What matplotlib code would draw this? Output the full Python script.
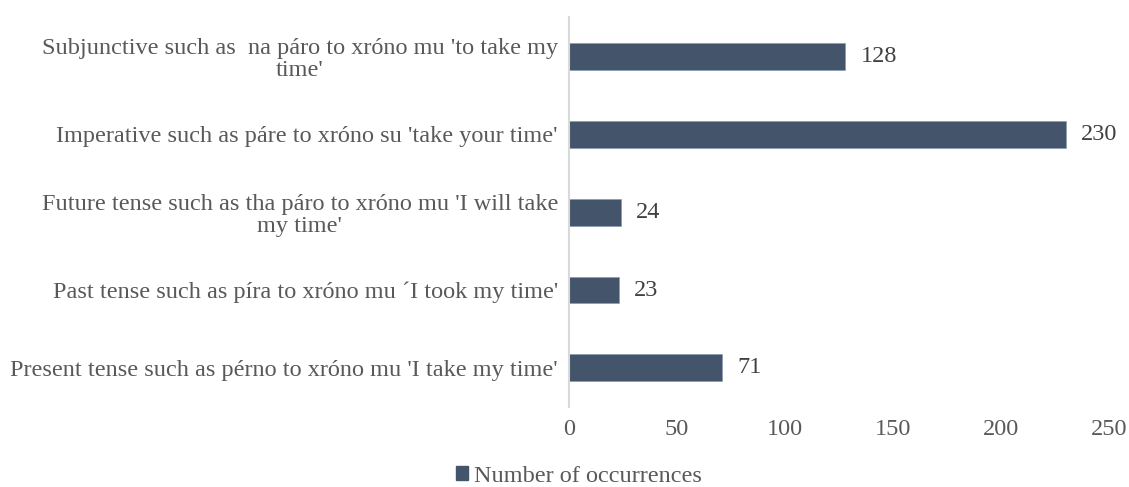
import matplotlib
matplotlib.use("Agg")
import matplotlib.pyplot as plt
from matplotlib.patches import Patch

# categories, bottom to top as drawn
categories = [
    "Present tense such as pérno to xróno mu 'I take my time'",
    "Past tense such as píra to xróno mu \u00b4I took my time'",
    "Future tense such as tha páro to xróno mu 'I will take\nmy time'",
    "Imperative such as páre to xróno su 'take your time'",
    "Subjunctive such as  na páro to xróno mu 'to take my\ntime'",
]
occurrences = [71, 23, 24, 230, 128]
xticks = [0, 50, 100, 150, 200, 250]
series_name = "Number of occurrences"

bar_color = "#44546a"
text_color = "#595959"
axis_color = "#d9d9d9"

plt.rcParams["font.family"] = ["Liberation Serif", "DejaVu Serif"]
plt.rcParams["font.size"] = 17.5

fig = plt.figure(figsize=(11.29, 4.87), dpi=100)
ax = fig.add_axes([0.504, 0.1643, 0.4783, 0.8007])

ypos = list(range(len(categories)))
bars = ax.barh(ypos, occurrences, height=0.346, color=bar_color,
               edgecolor="#8496b0", linewidth=0.4)

for y, v in zip(ypos, occurrences):
    ax.annotate(str(v), xy=(v, y), xytext=(11, 0), textcoords="offset points",
                ha="left", va="center", color="#404040")

ax.set_xlim(0, 250)
ax.set_ylim(-0.5, len(categories) - 0.5)
ax.set_xticks(xticks)
ax.set_xticklabels([str(t) for t in xticks], color=text_color)
ax.set_yticks(ypos)
ax.set_yticklabels(categories, color=text_color, multialignment="center",
                   linespacing=1.1)

for side in ["top", "right", "bottom"]:
    ax.spines[side].set_visible(False)
ax.spines["left"].set_color(axis_color)
ax.spines["left"].set_linewidth(1.5)
ax.tick_params(axis="both", length=0)
ax.tick_params(axis="y", pad=8)
ax.tick_params(axis="x", pad=9)

handle = Patch(facecolor=bar_color, edgecolor=bar_color)
fig.legend([handle], [series_name], loc="center", bbox_to_anchor=(0.513, 0.022),
           frameon=False, handlelength=0.5, handleheight=0.5, handletextpad=0.25,
           labelcolor=text_color)

fig.savefig("out.png", dpi=100)
